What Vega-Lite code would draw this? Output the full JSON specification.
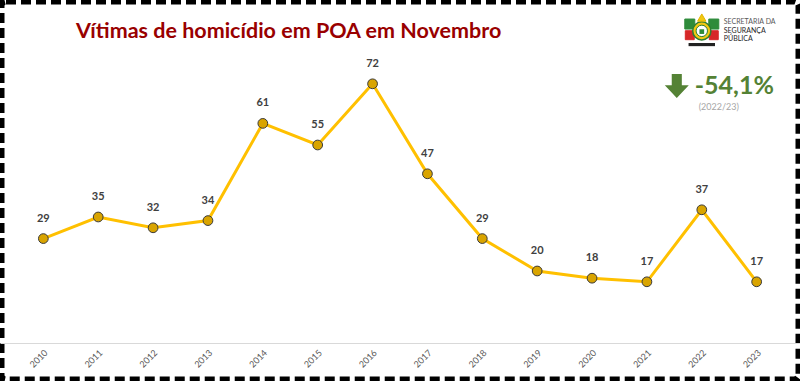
{
  "$schema": "https://vega.github.io/schema/vega-lite/v6.json",
  "width": 800,
  "height": 381,
  "autosize": {"type": "none"},
  "padding": 0,
  "background": "white",
  "config": {
    "view": {"stroke": "black", "strokeWidth": 9, "strokeDash": [10, 5], "cornerRadius": 6},
    "font": "Lato"
  },
  "title": {
    "text": "Vítimas de homicídio em POA em Novembro",
    "anchor": "start",
    "frame": "group",
    "dx": 76,
    "offset": -59,
    "baseline": "alphabetic",
    "font": "Lato",
    "fontSize": 21.5,
    "fontWeight": "bold",
    "color": "#990000"
  },
  "datasets": {
    "emblem": [
      {"part": "flagG", "v": 88.6},
      {"part": "flagR", "v": 85.5},
      {"part": "ribbon", "v": 82.9},
      {"part": "shield", "v": 86.7},
      {"part": "core", "v": 86.5},
      {"part": "crest", "v": 90.4},
      {"part": "arrow", "v": 71.4}
    ]
  },
  "data": {
    "values": [
      {"year": "2010", "value": 29},
      {"year": "2011", "value": 35},
      {"year": "2012", "value": 32},
      {"year": "2013", "value": 34},
      {"year": "2014", "value": 61},
      {"year": "2015", "value": 55},
      {"year": "2016", "value": 72},
      {"year": "2017", "value": 47},
      {"year": "2018", "value": 29},
      {"year": "2019", "value": 20},
      {"year": "2020", "value": 18},
      {"year": "2021", "value": 17},
      {"year": "2022", "value": 37},
      {"year": "2023", "value": 17}
    ]
  },
  "encoding": {
    "x": {
      "field": "year",
      "type": "ordinal",
      "scale": {"type": "band", "paddingInner": 0, "paddingOuter": 0.29},
      "axis": {
        "title": null,
        "offset": -38,
        "ticks": false,
        "grid": false,
        "domainColor": "#d9d9d9",
        "domainWidth": 1,
        "labelAngle": -45,
        "labelFontSize": 9,
        "labelColor": "#595959",
        "labelFont": "Lato",
        "labelPadding": 5
      }
    },
    "y": {
      "field": "value",
      "type": "quantitative",
      "scale": {"domain": [-10.56, 95.28], "nice": false, "zero": false},
      "axis": null
    }
  },
  "layer": [
    {"mark": {"type": "line", "color": "#FFC000", "strokeWidth": 3}},
    {"mark": {"type": "point", "filled": true, "fill": "#D9A400", "stroke": "#3a3a3a", "strokeWidth": 1, "size": 95, "opacity": 1}},
    {
      "mark": {"type": "text", "baseline": "alphabetic", "dy": -17, "fontSize": 11, "fontWeight": "bold", "color": "#404040", "font": "Lato"},
      "encoding": {"text": {"field": "value", "type": "quantitative"}}
    },
    {
      "data": {"values": [{"t": "-54,1%", "v": 71.4}]},
      "mark": {"type": "text", "align": "left", "baseline": "middle", "dx": -7, "fontSize": 25, "fontWeight": "bold", "color": "#548235", "font": "Lato"},
      "encoding": {"x": {"datum": "2022"}, "y": {"field": "v", "type": "quantitative"}, "text": {"field": "t"}}
    },
    {
      "data": {"values": [{"t": "(2022/23)", "v": 65.5}]},
      "mark": {"type": "text", "align": "center", "baseline": "middle", "dx": 17, "fontSize": 9, "color": "#a6a6a6", "font": "Lato"},
      "encoding": {"x": {"datum": "2022"}, "y": {"field": "v", "type": "quantitative"}, "text": {"field": "t"}}
    },
    {
      "data": {"values": [
        {"t": "SECRETARIA DA", "v": 89.2, "w": "normal", "c": "#595959"},
        {"t": "SEGURANÇA", "v": 86.8, "w": "bold", "c": "#262626"},
        {"t": "PÚBLICA", "v": 84.4, "w": "bold", "c": "#262626"}
      ]},
      "mark": {"type": "text", "align": "left", "baseline": "middle", "dx": 22, "fontSize": 7, "font": "Lato"},
      "encoding": {
        "x": {"datum": "2022"},
        "y": {"field": "v", "type": "quantitative"},
        "text": {"field": "t"},
        "color": {"field": "c", "type": "nominal", "scale": null},
        "fontWeight": {"field": "w", "type": "nominal", "scale": null}
      }
    },
    {
      "data": {"name": "emblem"},
      "encoding": {"x": {"datum": "2022"}, "y": {"field": "v", "type": "quantitative"}},
      "layer": [
        {"transform": [{"filter": "datum.part == 'flagG'"}],
         "mark": {"type": "point", "shape": "square", "filled": true, "opacity": 1, "size": 100, "fill": "#2e8b3a", "stroke": "#2e8b3a", "strokeWidth": 1, "xOffset": -12}},
        {"transform": [{"filter": "datum.part == 'flagG'"}],
         "mark": {"type": "point", "shape": "square", "filled": true, "opacity": 1, "size": 100, "fill": "#2e8b3a", "stroke": "#2e8b3a", "strokeWidth": 1, "xOffset": 12}},
        {"transform": [{"filter": "datum.part == 'flagR'"}],
         "mark": {"type": "point", "shape": "square", "filled": true, "opacity": 1, "size": 80, "fill": "#d62828", "stroke": "#d62828", "strokeWidth": 1, "xOffset": -12}},
        {"transform": [{"filter": "datum.part == 'flagR'"}],
         "mark": {"type": "point", "shape": "square", "filled": true, "opacity": 1, "size": 80, "fill": "#d62828", "stroke": "#d62828", "strokeWidth": 1, "xOffset": 12}},
        {"transform": [{"filter": "datum.part == 'ribbon'"}],
         "mark": {"type": "point", "shape": "M-1,-0.12H1V0.12H-1Z", "filled": true, "opacity": 1, "size": 700, "fill": "#222222", "strokeWidth": 0}},
        {"transform": [{"filter": "datum.part == 'shield'"}],
         "mark": {"type": "point", "shape": "circle", "filled": true, "opacity": 1, "size": 330, "fill": "#f2c811", "stroke": "#2e7d32", "strokeWidth": 1.5}},
        {"transform": [{"filter": "datum.part == 'shield'"}],
         "mark": {"type": "point", "shape": "circle", "filled": true, "opacity": 1, "size": 130, "fill": "#ffffff", "stroke": "#2e7d32", "strokeWidth": 1}},
        {"transform": [{"filter": "datum.part == 'core'"}],
         "mark": {"type": "point", "shape": "square", "filled": true, "opacity": 1, "size": 22, "fill": "#2e8b3a", "strokeWidth": 0}},
        {"transform": [{"filter": "datum.part == 'crest'"}],
         "mark": {"type": "point", "shape": "triangle-up", "filled": true, "opacity": 1, "size": 70, "fill": "#f2c811", "stroke": "#e0b400", "strokeWidth": 1}},
        {"transform": [{"filter": "datum.part == 'arrow'"}],
         "mark": {"type": "point", "shape": "M-0.42,-1H0.42V-0.05H1L0,1L-1,-0.05H-0.42Z", "filled": true, "opacity": 1, "size": 576, "fill": "#548235", "strokeWidth": 0, "xOffset": -25}}
      ]
    }
  ]
}
